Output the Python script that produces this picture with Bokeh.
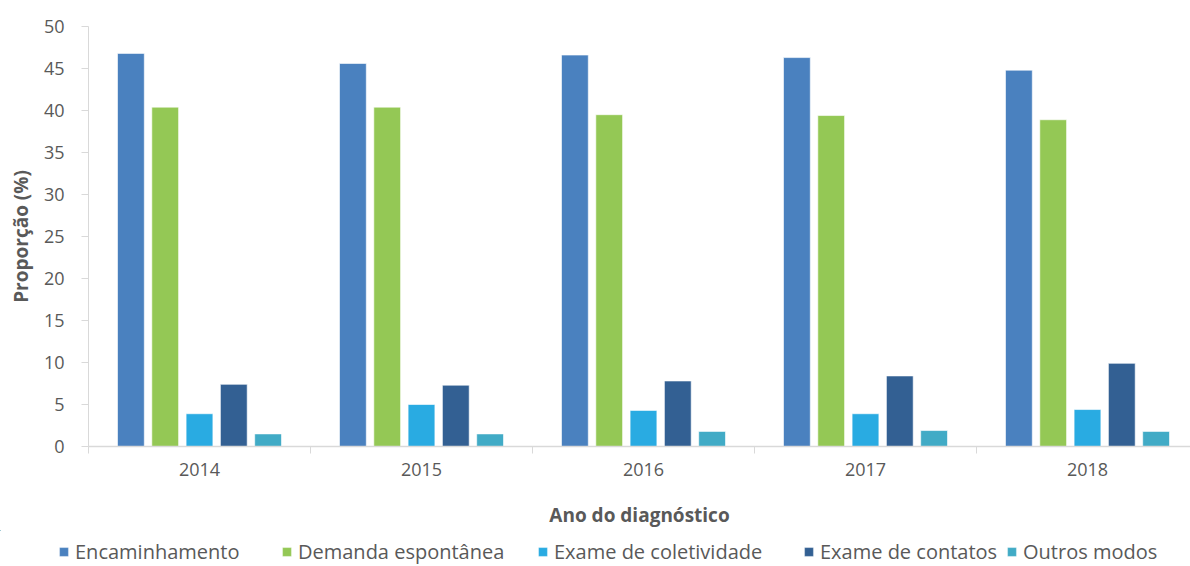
from bokeh.plotting import figure
from bokeh.models import (ColumnDataSource, Range1d, FixedTicker, Legend, LegendItem)
from bokeh.transform import dodge
from bokeh.embed import file_html
from bokeh.resources import INLINE

# ---- data ----
years = ["2014", "2015", "2016", "2017", "2018"]
series_names = ["Encaminhamento", "Demanda espontânea", "Exame de coletividade",
                "Exame de contatos", "Outros modos"]
encaminhamento = [46.8, 45.6, 46.6, 46.3, 44.8]
demanda_espontanea = [40.4, 40.4, 39.5, 39.4, 38.9]
exame_coletividade = [3.9, 5.0, 4.3, 3.9, 4.4]
exame_contatos = [7.4, 7.3, 7.8, 8.4, 9.9]
outros_modos = [1.5, 1.5, 1.8, 1.9, 1.8]
y_ticks = [0, 5, 10, 15, 20, 25, 30, 35, 40, 45, 50]

colors = ["#4a81bf", "#94c855", "#29abe2", "#336093", "#41abc6"]
series_values = [encaminhamento, demanda_espontanea, exame_coletividade,
                 exame_contatos, outros_modos]

FONT = "Open Sans"
TXT = "#595959"
AXC = "#d9d9d9"

centers = [i + 0.5 for i in range(len(years))]
data = {"xc": centers}
keys = []
for k, vals in enumerate(series_values):
    key = "s%d" % k
    keys.append(key)
    data[key] = vals
source = ColumnDataSource(data)

p = figure(width=1190, height=530, output_backend="svg", toolbar_location=None,
           x_range=Range1d(0, 4.964), y_range=Range1d(0, 50),
           min_border_left=88, min_border_right=0, min_border_top=26,
           min_border_bottom=82)
p.outline_line_color = None
p.xgrid.visible = False
p.ygrid.visible = False
p.background_fill_color = "white"
p.border_fill_color = "white"

pitch = 0.1545
bw = 0.1207
for k, key in enumerate(keys):
    off = (k - 2) * pitch
    p.vbar(x=dodge("xc", off, range=p.x_range), top=key, width=bw, bottom=0,
           source=source, fill_color=colors[k], line_color="white",
           line_width=1, line_alpha=0.6)

# x axis
xa = p.xaxis[0]
xa.ticker = FixedTicker(ticks=centers, minor_ticks=list(range(len(years) + 1)))
xa.major_label_overrides = {c: y for c, y in zip(centers, years)}
xa.major_tick_out = 0
xa.major_tick_in = 0
xa.minor_tick_out = 7
xa.minor_tick_in = 0
xa.minor_tick_line_color = AXC
xa.axis_line_color = AXC
xa.axis_line_width = 1.5
xa.major_label_text_font = FONT
xa.major_label_text_font_size = "18px"
xa.major_label_text_color = TXT
xa.major_label_standoff = 9
xa.axis_label = "Ano do diagnóstico"
xa.axis_label_text_font = FONT
xa.axis_label_text_font_size = "19px"
xa.axis_label_text_font_style = "bold"
xa.axis_label_text_color = TXT
xa.axis_label_standoff = 23

# y axis
ya = p.yaxis[0]
ya.ticker = FixedTicker(ticks=y_ticks)
ya.minor_tick_line_color = None
ya.major_tick_out = 7
ya.major_tick_in = 0
ya.major_tick_line_color = AXC
ya.axis_line_color = AXC
ya.major_label_text_font = FONT
ya.major_label_text_font_size = "18px"
ya.major_label_text_color = TXT
ya.major_label_standoff = 17
ya.axis_label = "Proporção (%)"
ya.axis_label_text_font = FONT
ya.axis_label_text_font_size = "19px"
ya.axis_label_text_font_style = "bold"
ya.axis_label_text_color = TXT
ya.axis_label_standoff = 7

# legend strip (separate root so nothing is clipped or aligned)
lp = figure(width=1190, height=36, output_backend="svg", toolbar_location=None,
            x_range=Range1d(100, 101), y_range=Range1d(-10, -9),
            x_axis_type=None, y_axis_type=None,
            min_border_left=0, min_border_right=0, min_border_top=0,
            min_border_bottom=0)
lp.outline_line_color = None
lp.xgrid.visible = False
lp.ygrid.visible = False
lp.background_fill_color = "white"
lp.border_fill_color = "white"

leg_x = [58, 281, 537, 803, 1006]
for k, key in enumerate(keys):
    off = (k - 2) * pitch
    r = lp.vbar(x=dodge("xc", off, range=lp.x_range), top=key, width=bw, bottom=0,
                source=source, fill_color=colors[k], line_color="white",
                line_width=0.5, line_alpha=0.6)
    lg = Legend(items=[LegendItem(label=series_names[k], renderers=[r])],
                location=(leg_x[k], 1), orientation="horizontal",
                padding=0, margin=0, spacing=0,
                glyph_width=11, glyph_height=11, label_standoff=6,
                label_text_font=FONT, label_text_font_size="20px",
                label_text_color=TXT, label_height=14,
                border_line_alpha=0, background_fill_alpha=0)
    lp.add_layout(lg, "center")

open("out.html", "w").write(file_html([p, lp], INLINE))
